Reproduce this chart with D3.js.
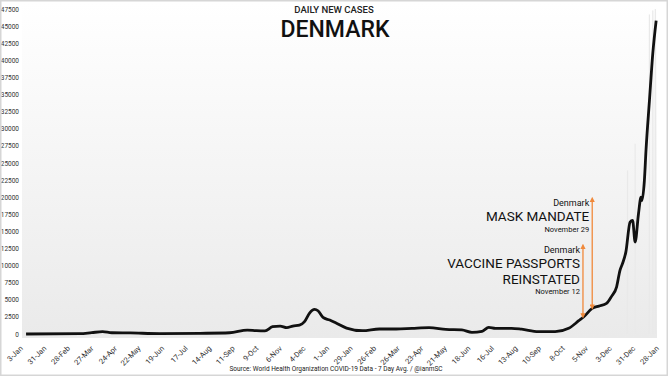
<!DOCTYPE html>
<html>
<head>
<meta charset="utf-8">
<script src="https://cdn.jsdelivr.net/npm/d3@7"></script>
<style>
    body { margin: 0; background: #fff; }
    text { font-family: Roboto, "Noto Sans", sans-serif; }
</style>
</head>
<body>
<div class="chart"></div>
<script>
// 7 day average of daily new cases
const caseDates = [
    "2020-01-09", "2020-03-13", "2020-03-27", "2020-04-09", "2020-04-20", "2020-05-12",
    "2020-06-16", "2020-08-03", "2020-09-07", "2020-09-28", "2020-10-09", "2020-10-19",
    "2020-10-28", "2020-11-06", "2020-11-14", "2020-11-21", "2020-11-29", "2020-12-05",
    "2020-12-11", "2020-12-17", "2020-12-21", "2020-12-27", "2021-01-04", "2021-01-12",
    "2021-01-24", "2021-02-12", "2021-03-04", "2021-03-24", "2021-04-12", "2021-05-02",
    "2021-05-22", "2021-06-10", "2021-06-22", "2021-07-04", "2021-07-12", "2021-07-20",
    "2021-08-08", "2021-08-20", "2021-09-09", "2021-09-29", "2021-10-15", "2021-10-27",
    "2021-11-02", "2021-11-12", "2021-11-20", "2021-11-29", "2021-12-05", "2021-12-11",
    "2021-12-15", "2021-12-18", "2021-12-22", "2021-12-27", "2021-12-30", "2022-01-02",
    "2022-01-06", "2022-01-09", "2022-01-10", "2022-01-13", "2022-01-15", "2022-01-19",
    "2022-01-23", "2022-01-27"
]
const caseValues = [
    0, 50, 200, 340, 180, 150,
    60, 100, 180, 580, 480, 450,
    1060, 1160, 920, 1160, 1300, 1800,
    3060, 3600, 3400, 2420, 2040, 1580,
    870, 480, 730, 730, 830, 920,
    680, 600, 240, 400, 970, 830,
    830, 700, 340, 340, 830, 1940,
    2520, 3740, 4080, 4470, 5500, 6900,
    9300, 10300, 12000, 16360, 16600, 13440,
    17580, 20000, 19500, 22430, 27000, 34090,
    41000, 45800
]
// faint daily spikes behind the average
const dailyDates = ["2021-12-24", "2022-01-02", "2022-01-19", "2022-01-23", "2022-01-26"]
const dailyValues = [23900, 27800, 46700, 47300, 47500]

const xTickDates = [
    "2020-01-03", "2020-01-31", "2020-02-28", "2020-03-27", "2020-04-24", "2020-05-22",
    "2020-06-19", "2020-07-17", "2020-08-14", "2020-09-11", "2020-10-09", "2020-11-06",
    "2020-12-04", "2021-01-01", "2021-01-29", "2021-02-26", "2021-03-26", "2021-04-23",
    "2021-05-21", "2021-06-18", "2021-07-16", "2021-08-13", "2021-09-10", "2021-10-08",
    "2021-11-05", "2021-12-03", "2021-12-31", "2022-01-28"
]
const yTicks = [0, 2500, 5000, 7500, 10000, 12500, 15000, 17500, 20000, 22500, 25000,
    27500, 30000, 32500, 35000, 37500, 40000, 42500, 45000, 47500]

// annotations: arrow date, arrow from/to value, text lines
const notes = [
    { date: "2021-11-12", from: 3640, to: 19960, sub: "Denmark", lines: ["MASK MANDATE"], when: "November 29" },
    { date: "2021-11-01", from: 2370, to: 13110, sub: "Denmark", lines: ["VACCINE PASSPORTS", "REINSTATED"], when: "November 12" }
]

const width = 668
const height = 376
const parse = d3.timeParse("%Y-%m-%d")
const orange = "#f0893b"

let svg = d3.select(".chart")
    .append("svg")
    .attr("width", width)
    .attr("height", height)

let defs = svg.append("defs")
let grad = defs.append("linearGradient")
    .attr("id", "panelGrad")
    .attr("x1", 0).attr("y1", 0).attr("x2", 0).attr("y2", 1)
grad.append("stop").attr("offset", "0%").attr("stop-color", "#ffffff")
grad.append("stop").attr("offset", "100%").attr("stop-color", "#eaeaea")
// arrow heads
defs.append("marker")
    .attr("id", "head")
    .attr("viewBox", "0 0 10 10")
    .attr("refX", 5).attr("refY", 5)
    .attr("markerWidth", 4).attr("markerHeight", 4)
    .attr("orient", "auto-start-reverse")
    .append("path")
    .attr("d", "M0,0 L10,5 L0,10 Z")
    .attr("fill", orange)

// panel
let panel = { left: 22, right: 657, top: 3, bottom: 338 }
svg.append("rect")
    .attr("x", panel.left)
    .attr("y", panel.top)
    .attr("width", panel.right - panel.left)
    .attr("height", panel.bottom - panel.top)
    .attr("fill", "url(#panelGrad)")

let x = d3.scaleTime()
    .domain([parse(xTickDates[0]), parse(xTickDates[xTickDates.length - 1])])
    .range([21, 657])
let y = d3.scaleLinear()
    .domain([0, 47500])
    .range([334, 9])

// daily spikes
svg.append("g")
    .selectAll("rect")
    .data(dailyDates.map((d, i) => ({ date: parse(d), value: dailyValues[i] })))
    .enter()
    .append("rect")
    .attr("x", (d) => x(d.date) - 0.6)
    .attr("y", (d) => y(d.value))
    .attr("width", 1.2)
    .attr("height", (d) => y(0) - y(d.value))
    .attr("fill", "#e9e9e9")

// y axis
let yAxis = svg.append("g")
    .attr("transform", `translate(${panel.left},0)`)
    .call(d3.axisLeft(y).tickValues(yTicks).tickSize(0).tickPadding(3).tickFormat(d3.format("d")))
yAxis.select(".domain").remove()
yAxis.selectAll("text")
    .attr("font-size", 6.5)
    .attr("fill", "#333")
    .style("font-family", "Roboto")

// x axis, rotated labels
let xAxis = svg.append("g")
    .attr("transform", `translate(0,347)`)
    .call(d3.axisBottom(x).tickValues(xTickDates.map(parse)).tickSize(0).tickFormat(d3.timeFormat("%-d-%b")))
xAxis.select(".domain").remove()
xAxis.selectAll("text")
    .attr("y", 0)
    .attr("x", 0)
    .attr("dy", "0.35em")
    .attr("text-anchor", "end")
    .attr("transform", "rotate(-45)")
    .attr("font-size", 7.5)
    .attr("fill", "#333")
    .style("font-family", "Roboto")

// average line
let cases = caseDates.map((d, i) => ({ date: parse(d), value: caseValues[i] }))
let line = d3.line()
    .x((d) => x(d.date))
    .y((d) => y(d.value))
    .curve(d3.curveMonotoneX)
svg.append("path")
    .datum(cases)
    .attr("fill", "none")
    .attr("stroke", "#111")
    .attr("stroke-width", 2.8)
    .attr("stroke-linejoin", "round")
    .attr("d", line)

// annotations
let noteG = svg.append("g")
notes.forEach((n) => {
    let ax = x(parse(n.date))
    let top = y(n.to)
    noteG.append("line")
        .attr("x1", ax).attr("x2", ax)
        .attr("y1", y(n.from) - 2).attr("y2", top + 2)
        .attr("stroke", orange)
        .attr("stroke-width", 1.3)
        .attr("marker-start", "url(#head)")
        .attr("marker-end", "url(#head)")
    let tx = ax - 3
    noteG.append("text")
        .attr("x", tx).attr("y", top + 8.5)
        .attr("text-anchor", "end")
        .attr("font-size", 9)
        .attr("fill", "#111")
        .text(n.sub)
    n.lines.forEach((l, i) => {
        noteG.append("text")
            .attr("x", tx).attr("y", top + 23.3 + i * 16)
            .attr("text-anchor", "end")
            .attr("font-size", 13.5)
            .attr("fill", "#111")
            .text(l)
    })
    noteG.append("text")
        .attr("x", tx).attr("y", top + 23.3 + (n.lines.length - 1) * 16 + 10.8)
        .attr("text-anchor", "end")
        .attr("font-size", 7.5)
        .attr("fill", "#111")
        .text(n.when)
})

// titles
svg.append("text")
    .attr("x", 334).attr("y", 13)
    .attr("text-anchor", "middle")
    .attr("font-size", 9.5)
    .attr("font-weight", 500)
    .attr("fill", "#222")
    .text("DAILY NEW CASES")
svg.append("text")
    .attr("x", 335).attr("y", 36.5)
    .attr("text-anchor", "middle")
    .attr("font-size", 23)
    .attr("font-weight", 500)
    .attr("fill", "#111")
    .text("DENMARK")
svg.append("text")
    .attr("x", 336).attr("y", 371)
    .attr("text-anchor", "middle")
    .attr("font-size", 6.5)
    .attr("fill", "#222")
    .text("Source: World Health Organization COVID-19 Data - 7 Day Avg. / @ianmSC")

// outer frame
svg.append("rect")
    .attr("x", 0.75).attr("y", 0.75)
    .attr("width", width - 1.5).attr("height", height - 1.5)
    .attr("fill", "none")
    .attr("stroke", "#d6d6d6")
    .attr("stroke-width", 1.5)
</script>
</body>
</html>
